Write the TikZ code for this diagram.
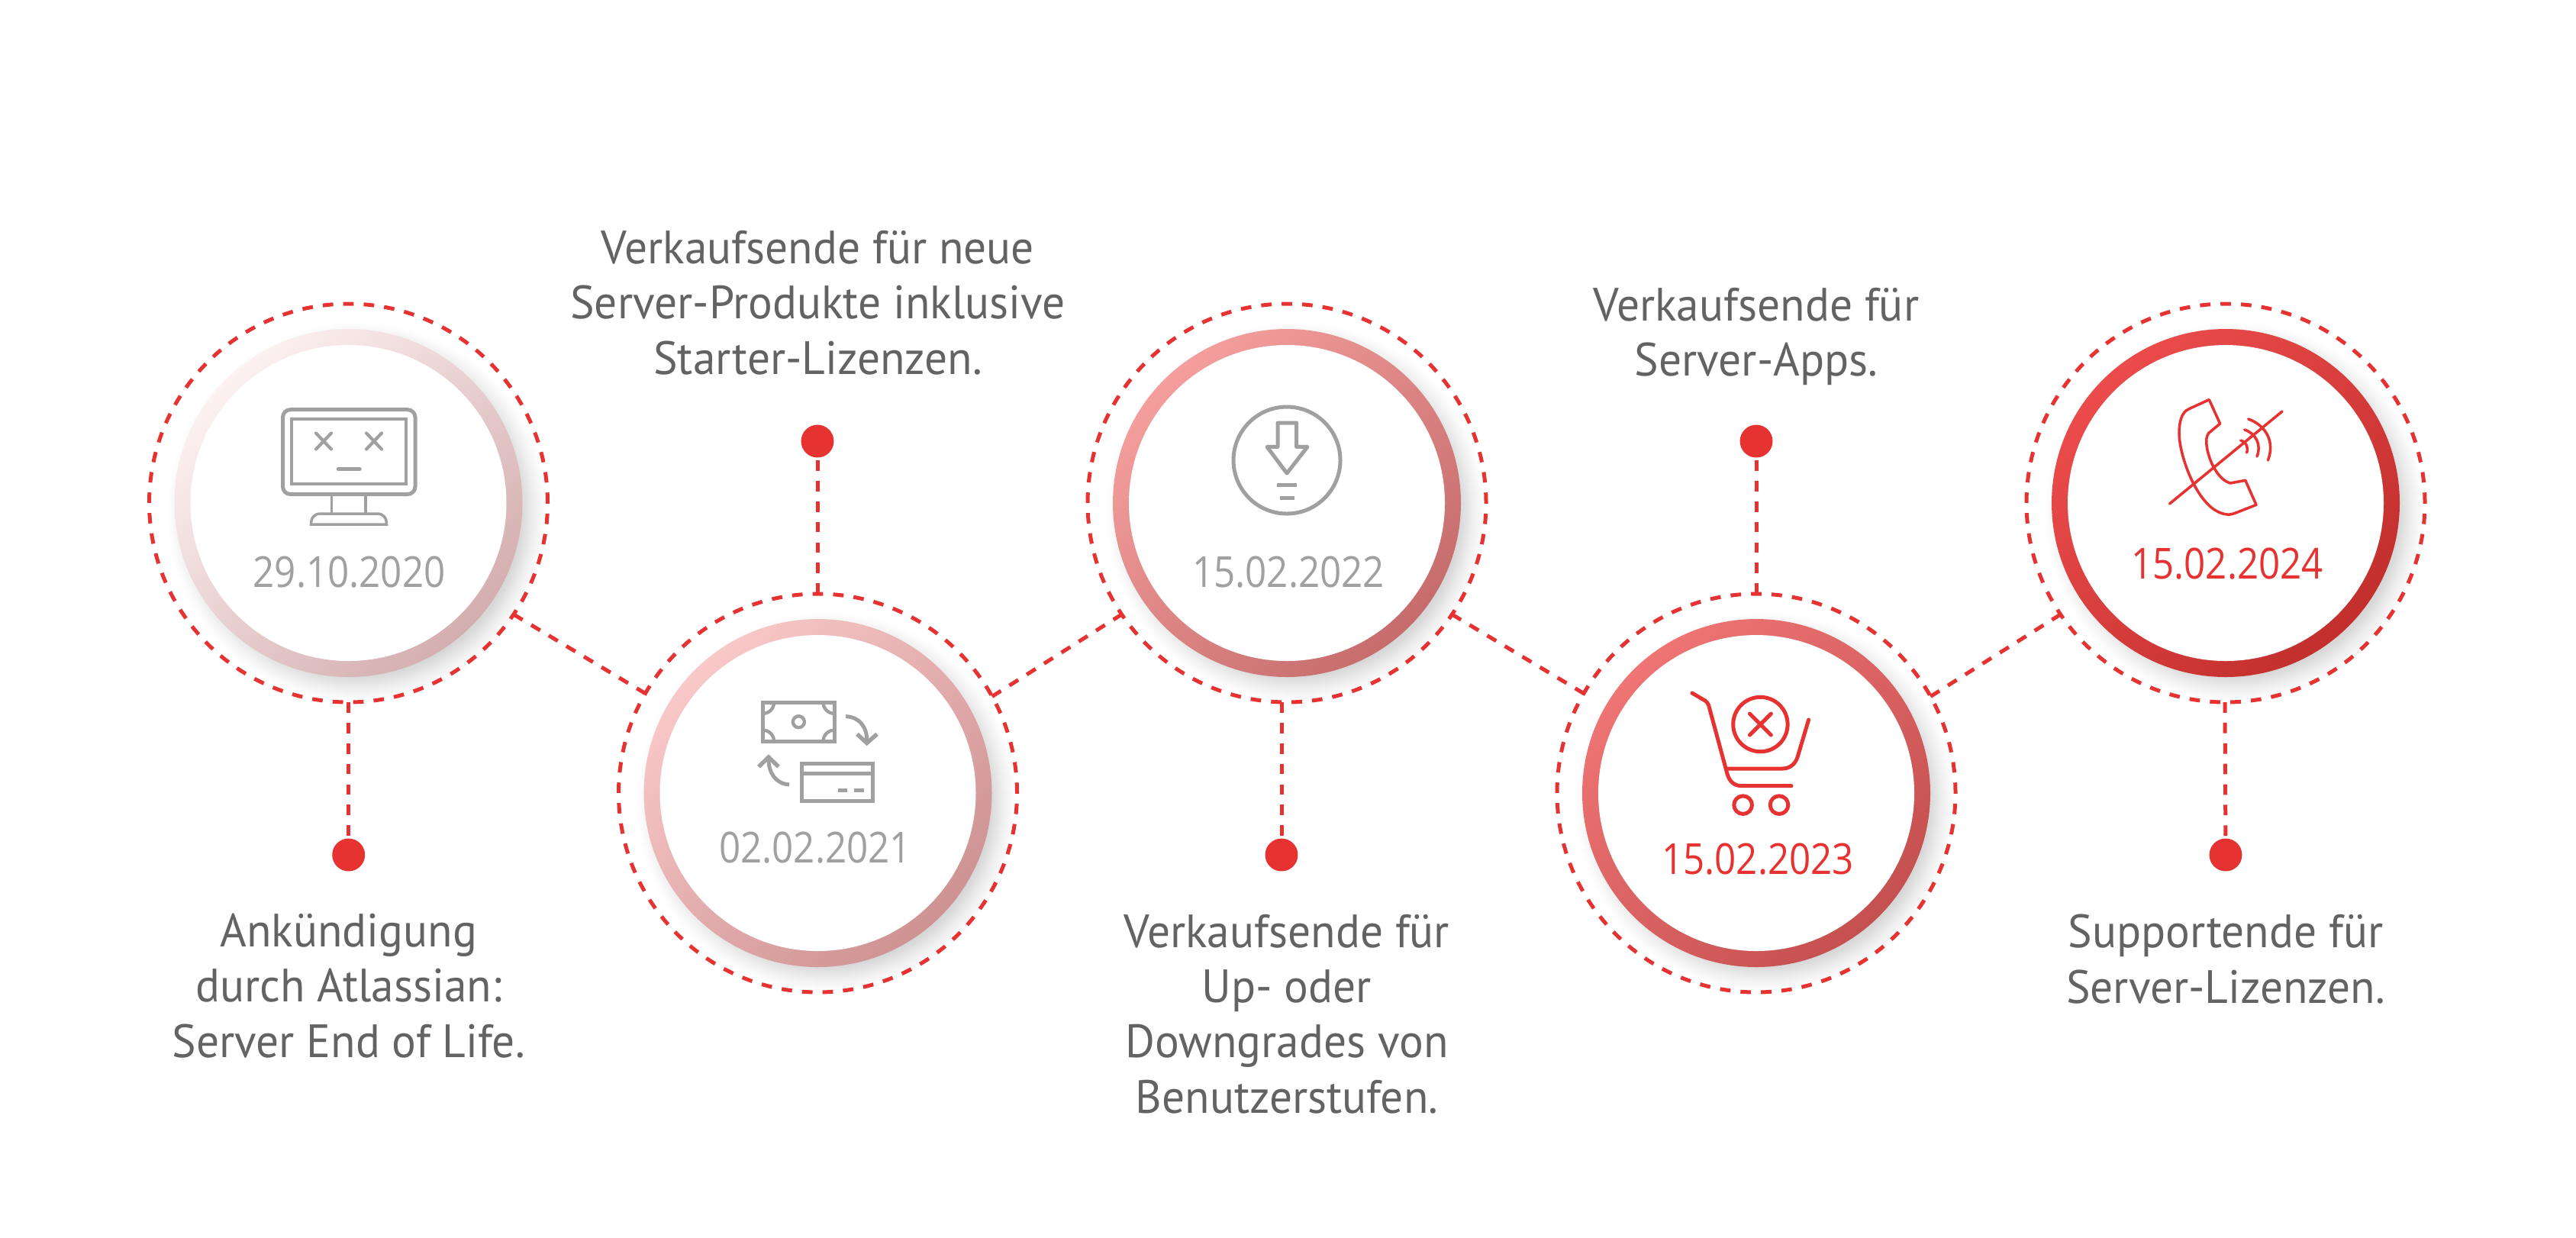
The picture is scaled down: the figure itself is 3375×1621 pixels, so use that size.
\documentclass[tikz,border=0pt]{standalone}
\usepackage{fontspec}
\setmainfont{PT Sans}
\newfontfamily\labelfont[FakeStretch=0.97]{PT Sans}
\newfontfamily\datefont[FakeStretch=0.88]{Open Sans}
\definecolor{redline}{HTML}{E63331}
\definecolor{greyicon}{HTML}{A0A0A0}
\definecolor{greytext}{HTML}{636363}
\definecolor{shadowgrey}{HTML}{CCCCCC}
\definecolor{ra}{HTML}{FDF1F1}\definecolor{rb}{HTML}{D4AEAE}
\definecolor{rc}{HTML}{F9C8C8}\definecolor{rd}{HTML}{CE9292}
\definecolor{re}{HTML}{F49E9E}\definecolor{rf}{HTML}{C66C6C}
\definecolor{rg}{HTML}{EF7474}\definecolor{rh}{HTML}{C55050}
\definecolor{ri}{HTML}{EB4C4B}\definecolor{rj}{HTML}{C22F2D}
\pgfdeclareradialshading{softshadow}{\pgfpoint{0bp}{0bp}}{
  color(0bp)=(shadowgrey); color(20bp)=(shadowgrey); color(21.5bp)=(shadowgrey!75!white);
  color(23bp)=(shadowgrey!35!white); color(24.5bp)=(shadowgrey!6!white); color(25bp)=(white); color(50bp)=(white)}
\tikzset{
  x=0.24pt, y=-0.24pt,
  shadowdisc/.style={circle, inner sep=0pt, outer sep=0pt, minimum size=120pt, shading=softshadow},
  ring/.style 2 args={circle, inner sep=0pt, outer sep=0pt, minimum size=109.44pt, left color=#1, right color=#2, shading angle=45},
  hub/.style={circle, inner sep=0pt, outer sep=0pt, minimum size=99.36pt, fill=white},
  dashring/.style={circle, inner sep=0pt, outer sep=0pt, minimum size=125.28pt, draw=redline, line width=1.2pt, dash pattern=on 3.3pt off 3.15pt},
  link/.style={draw=redline, line width=1.2pt, dash pattern=on 3.3pt off 3.15pt},
  dot/.style={circle, inner sep=0pt, outer sep=0pt, minimum size=10.3pt, fill=redline},
  labeltext/.style={font=\labelfont\fontsize{14.7pt}{17.3pt}\selectfont, text=greytext, align=center, inner sep=0pt, anchor=base},
  datetext/.style={font=\datefont\fontsize{13.44pt}{16pt}\selectfont, inner sep=0pt, anchor=base},
  icongrey/.style={draw=greyicon, line width=1.2pt},
  iconred/.style={draw=redline, line width=1.2pt, line cap=round, line join=round},
}
\begin{document}
\begin{tikzpicture}
\useasboundingbox (0,0) rectangle (3375,1621);
\fill[white] (0,0) rectangle (3375,1621);
% shadows
\node[shadowdisc] (s1) at (468,671) {};
\node[shadowdisc] (s2) at (1083,1051) {};
\node[shadowdisc] (s3) at (1698,671) {};
\node[shadowdisc] (s4) at (2313,1051) {};
\node[shadowdisc] (s5) at (2928,671) {};
% rings
\node[ring={ra}{rb}] (r1) at (456.5,659) {};
\node[ring={rc}{rd}] (r2) at (1071.5,1039) {};
\node[ring={re}{rf}] (r3) at (1686,659) {};
\node[ring={rg}{rh}] (r4) at (2301,1039) {};
\node[ring={ri}{rj}] (r5) at (2916,659) {};
\node[hub] (h1) at (r1) {};
\node[hub] (h2) at (r2) {};
\node[hub] (h3) at (r3) {};
\node[hub] (h4) at (r4) {};
\node[hub] (h5) at (r5) {};
% dashed circles
\node[dashring] (d1) at (r1) {};
\node[dashring] (d2) at (r2) {};
\node[dashring] (d3) at (r3) {};
\node[dashring] (d4) at (r4) {};
\node[dashring] (d5) at (r5) {};
% links between circles
\draw[link] (d1.-34.7) -- (d2.150.7);
\draw[link] (d2.29.7) -- (d3.214.9);
\draw[link] (d3.-34.2) -- (d4.150.8);
\draw[link] (d4.29.4) -- (d5.214.7);
% dots and stems
\node[dot] (p1) at (456.7,1120) {};
\node[dot] (p2) at (1071,578) {};
\node[dot] (p3) at (1679,1120) {};
\node[dot] (p4) at (2301,578) {};
\node[dot] (p5) at (2916,1120) {};
\coordinate (q1) at (456.7,920);
\coordinate (q2) at (1071,778);
\coordinate (q3) at (1679,920);
\coordinate (q4) at (2301,778);
\coordinate (q5) at (2915,920);
\draw[link] (q1) -- (p1);
\draw[link] (q2) -- (p2);
\draw[link] (q3) -- (p3);
\draw[link] (q4) -- (p4);
\draw[link] (q5) -- (p5);
% labels
\node[labeltext] (t1) at (456.7,1385) {Ankündigung\\durch Atlassian:\\Server End of Life.};
\node[labeltext] (t2) at (1071.5,490) {Verkaufsende für neue\\Server-Produkte inklusive\\Starter-Lizenzen.};
\node[labeltext] (t3) at (1686,1458) {Verkaufsende für\\Up- oder\\Downgrades von\\Benutzerstufen.};
\node[labeltext] (t4) at (2301,492.5) {Verkaufsende für\\Server-Apps.};
\node[labeltext] (t5) at (2916,1314) {Supportende für\\Server-Lizenzen.};
% dates
\node[datetext, text=greyicon] (a1) at (457.5,769) {29.10.2020};
\node[datetext, text=greyicon] (a2) at (1068,1130) {02.02.2021};
\node[datetext, text=greyicon] (a3) at (1688,769) {15.02.2022};
\node[datetext, text=redline] (a4) at (2303,1145) {15.02.2023};
\node[datetext, text=redline] (a5) at (2918,758) {15.02.2024};
% monitor icon
\draw[icongrey, rounded corners=2.4pt] (370.5,536.7) rectangle (544,647.5);
\draw[icongrey, line width=1.05pt] (382,549) rectangle (532,634);
\draw[icongrey, line width=1pt, line cap=round] (414,567.5) -- (434,588.5) (434,567.5) -- (414,588.5);
\draw[icongrey, line width=1pt, line cap=round] (480,567.5) -- (500,588.5) (500,567.5) -- (480,588.5);
\draw[icongrey, line width=1.05pt, line cap=round] (443,614.6) -- (471.5,614.6);
\draw[icongrey, line width=.85pt] (434.5,650) -- (434.5,673) (479,650) -- (479,673);
\draw[icongrey, line width=.85pt] (407.5,687) .. controls (407.5,678) and (412,673) .. (420,673) -- (494,673) .. controls (502,673) and (506.5,678) .. (506.5,687) -- cycle;
% money icon
\draw[icongrey] (999.6,920.4) rectangle (1093,971);
\draw[icongrey, line width=1.05pt] (1014,920.4) arc[start angle=0, end angle=90, radius=14.4] (1014,971) arc[start angle=0, end angle=-90, radius=14.4] (1078.6,920.4) arc[start angle=180, end angle=90, radius=14.4] (1078.6,971) arc[start angle=180, end angle=270, radius=14.4];
\draw[icongrey, line width=1.05pt] (1046.4,945.7) circle (7.5);
\draw[icongrey] (1108,938.6) .. controls (1126,939) and (1136,953) .. (1135.7,970);
\draw[icongrey, line width=1.3pt] (1123,961.8) -- (1135.7,973.5) -- (1149,961.8);
\draw[icongrey] (1034,1027.9) .. controls (1016,1027) and (1007,1012) .. (1007,995);
\draw[icongrey, line width=1.3pt] (994,1004.6) -- (1007,992) -- (1020,1004.6);
\draw[icongrey] (1050,1000) rectangle (1143.3,1049.7);
\draw[icongrey] (1050,1013.6) -- (1143.3,1013.6);
\draw[icongrey] (1097.5,1035) -- (1110,1035) (1119,1035) -- (1132,1035);
% download icon
\draw[icongrey] (1686,603) circle (70);
\draw[icongrey, line join=round] (1674,554) -- (1698.6,554) -- (1698.6,585.4) -- (1713,585.4) -- (1686,620) -- (1660,585.4) -- (1674,585.4) -- cycle;
\draw[icongrey] (1673,635) -- (1699,635) (1677,652) -- (1696,652);
% cart icon
\draw[iconred] (2217,908) -- (2234,918) .. controls (2236,919.5) and (2237.5,921) .. (2238.6,924) -- (2263,1014) .. controls (2266,1024) and (2272,1029.6) .. (2282,1029.6) -- (2347,1029.6);
\draw[iconred] (2262.5,1007) -- (2335,1007) .. controls (2345,1007) and (2352,1001) .. (2355,992) -- (2369.6,943);
\draw[iconred] (2306.4,949) circle (35.7);
\draw[iconred] (2292.4,935) -- (2320.4,963) (2320.4,935) -- (2292.4,963);
\draw[iconred] (2283.6,1054.6) circle (11.8);
\draw[iconred] (2331,1054.6) circle (11.8);
% phone icon
\draw[iconred, line width=.85pt] (2894.3,523.6) -- (2908.6,555) -- (2893.6,567.5) .. controls (2886,577) and (2895,605) .. (2902.5,615.7) .. controls (2908,625) and (2915,631) .. (2922,633) -- (2941.8,629.3) -- (2956,661.4) -- (2929,672) .. controls (2922,675) and (2915,675) .. (2905,670) .. controls (2885,660) and (2866,625) .. (2858,590) .. controls (2852,565) and (2855,540) .. (2868.6,535.4) -- cycle;
\draw[iconred, line width=.85pt] (2842.5,660) -- (2990,539);
\draw[iconred, line width=.85pt] (2935.7,577) .. controls (2943,579) and (2946,586) .. (2943.6,593);
\draw[iconred, line width=.85pt] (2940.7,563) .. controls (2956,568) and (2963,583) .. (2957,598);
\draw[iconred, line width=.85pt] (2945.7,549) .. controls (2968,557) and (2981,578) .. (2971.4,603);
\end{tikzpicture}
\end{document}
